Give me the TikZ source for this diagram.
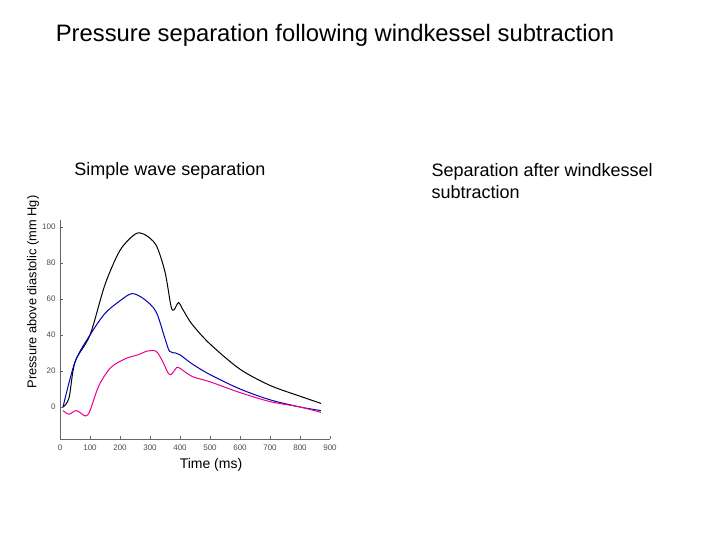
\documentclass[tikz,border=0pt]{standalone}
\usepackage{fontspec}
\setmainfont{Liberation Sans}
\begin{document}
\begin{tikzpicture}[x=1pt,y=-1pt,
 tick/.style={font=\fontsize{8}{9}\selectfont,text=black!70},
 lbl/.style={font=\fontsize{18}{22}\selectfont},
 crv/.style={line width=1pt,smooth,tension=0.5}]
\useasboundingbox (0,0) rectangle (720,540);
\node[font=\fontsize{23.8}{28}\selectfont] (title) at (335,35) {Pressure separation following windkessel subtraction};
\node[lbl] (s1) at (170,171) {Simple wave separation};
\node[lbl,anchor=north west,align=left] (s2) at (428,160) {Separation after windkessel\\subtraction};
\node[font=\fontsize{12.8}{15}\selectfont,rotate=90] (yl) at (33,292) {Pressure above diastolic (mm Hg)};
\node[font=\fontsize{14}{16}\selectfont] (xl) at (211,465) {Time (ms)};
\draw[black!60,line width=0.4pt] (60,220) -- (60,439) -- (330,439);
\foreach \v in {0,20,...,100}{
  \draw[black!60] (60,407-1.8*\v) -- (63,407-1.8*\v);
  \node[tick,anchor=east] at (59,407-1.8*\v) {\v};}
\foreach \t in {0,100,...,900}{
  \draw[black!60] (60+0.3*\t,439) -- (60+0.3*\t,436);
  \node[tick,anchor=north] at (60+0.3*\t,441) {\t};}
\begin{scope}[shift={(60,407)},xscale=0.3,yscale=-1.8]
\draw[crv,black] plot coordinates {(10,0) (30,5) (50,25) (100,40) (150,68) (200,87) (250,96) (280,96) (320,90) (350,75) (370,56) (380,54) (395,58) (410,54) (440,46) (500,35) (600,21) (700,12) (800,6) (870,2)};
\draw[crv,blue!70!black] plot coordinates {(10,0) (50,25) (100,40) (150,52) (200,59) (240,63) (280,60) (320,53) (350,38) (365,31) (385,30) (400,29) (440,24) (500,18) (600,10) (700,4) (800,0) (870,-2)};
\draw[crv,magenta] plot coordinates {(10,-2) (30,-4) (55,-2) (85,-5) (100,-2) (130,12) (170,22) (220,27) (260,29) (290,31) (320,31) (340,26) (360,19) (370,18) (385,21) (395,22) (440,17) (500,14) (600,8) (700,3) (800,0) (870,-3)};
\end{scope}
\end{tikzpicture}
\end{document}
